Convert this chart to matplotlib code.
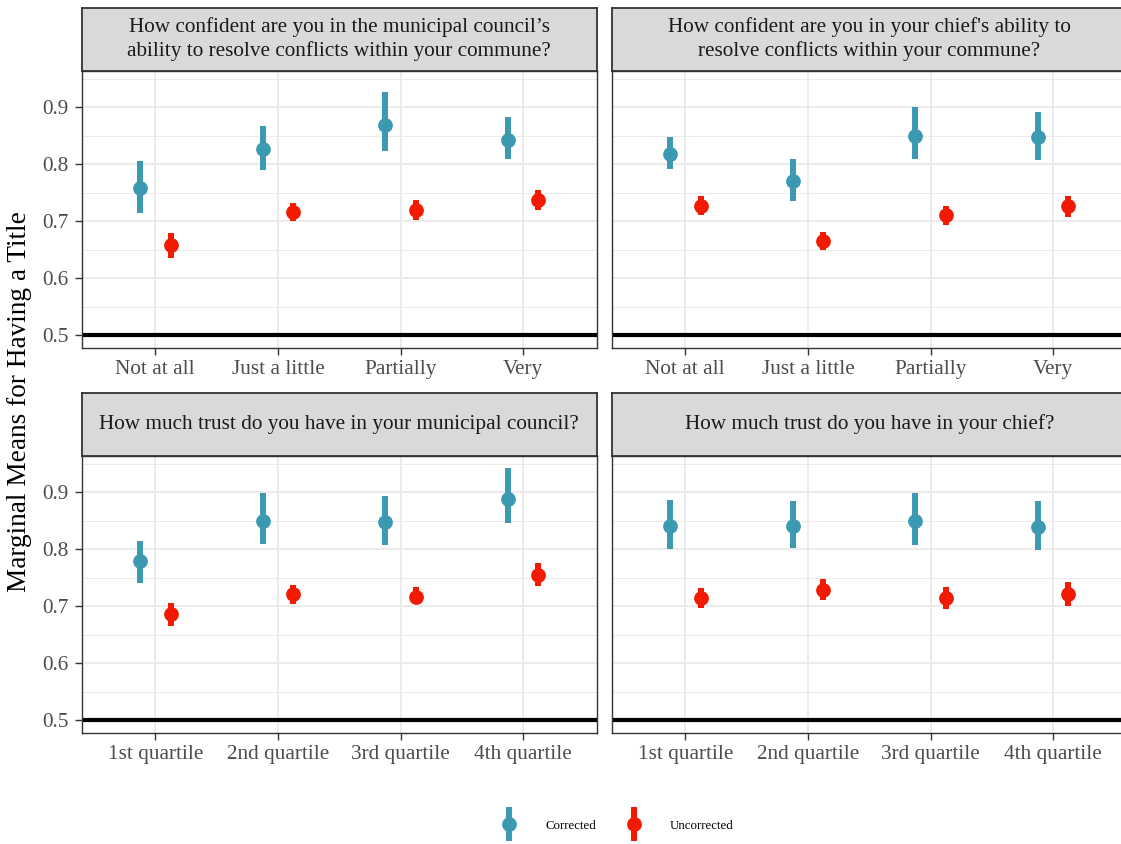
import matplotlib.pyplot as plt
from matplotlib.lines import Line2D

plt.rcParams['font.family'] = ['Liberation Serif', 'DejaVu Serif']

# Panel titles and categories
titles = [
    "How confident are you in the municipal council\u2019s\nability to resolve conflicts within your commune?",
    "How confident are you in your chief's ability to\nresolve conflicts within your commune?",
    "How much trust do you have in your municipal council?",
    "How much trust do you have in your chief?",
]
cats_conf = ["Not at all", "Just a little", "Partially", "Very"]
cats_trust = ["1st quartile", "2nd quartile", "3rd quartile", "4th quartile"]
panel_cats = [cats_conf, cats_conf, cats_trust, cats_trust]

# Corrected estimates (mean, lower, upper) per panel
corr_mean = [
    [0.758, 0.827, 0.869, 0.843],
    [0.818, 0.770, 0.850, 0.847],
    [0.779, 0.850, 0.847, 0.889],
    [0.840, 0.840, 0.850, 0.839],
]
corr_lo = [
    [0.714, 0.790, 0.823, 0.810],
    [0.792, 0.736, 0.809, 0.808],
    [0.740, 0.809, 0.807, 0.846],
    [0.800, 0.802, 0.807, 0.798],
]
corr_hi = [
    [0.806, 0.867, 0.927, 0.883],
    [0.848, 0.809, 0.900, 0.892],
    [0.814, 0.899, 0.893, 0.942],
    [0.887, 0.885, 0.898, 0.885],
]

# Uncorrected estimates
unc_mean = [
    [0.658, 0.717, 0.720, 0.737],
    [0.727, 0.666, 0.710, 0.727],
    [0.687, 0.721, 0.717, 0.754],
    [0.714, 0.729, 0.714, 0.721],
]
unc_lo = [
    [0.636, 0.701, 0.702, 0.719],
    [0.711, 0.650, 0.694, 0.708],
    [0.665, 0.703, 0.703, 0.735],
    [0.696, 0.711, 0.695, 0.700],
]
unc_hi = [
    [0.680, 0.732, 0.737, 0.755],
    [0.744, 0.681, 0.727, 0.744],
    [0.706, 0.738, 0.733, 0.775],
    [0.732, 0.747, 0.734, 0.742],
]

blue = "#3B9AB2"
red = "#F21A00"

W, H = 1121, 844
fig = plt.figure(figsize=(W / 100, H / 100), dpi=100)

# panel boxes in pixels: (left, top-of-panel)
lefts = [81.7, 611.7, 81.7, 611.7]
tops = [70.7, 70.7, 455.7, 455.7]
pw, ph, sh = 515.0, 277.0, 63.0

for i in range(4):
    l, t = lefts[i], tops[i]
    ax = fig.add_axes([l / W, 1 - (t + ph) / H, pw / W, ph / H])
    sax = fig.add_axes([l / W, 1 - t / H, pw / W, sh / H])

    x = list(range(1, 5))
    xc = [v - 0.125 for v in x]
    xu = [v + 0.125 for v in x]

    ax.axhline(0.5, color="black", lw=3.0, zorder=2)

    for xs, m, lo, hi, col in [(xc, corr_mean[i], corr_lo[i], corr_hi[i], blue),
                               (xu, unc_mean[i], unc_lo[i], unc_hi[i], red)]:
        yerr = [[a - b for a, b in zip(m, lo)], [b - a for a, b in zip(m, hi)]]
        cont = ax.errorbar(xs, m, yerr=yerr, fmt='o', color=col, ms=9.6,
                           elinewidth=4.3, capsize=0, zorder=3)
        for lc in cont.lines[2]:
            lc.set_capstyle('butt')

    ax.set_xlim(0.4, 4.6)
    ax.set_ylim(0.4779, 0.9642)
    ax.set_xticks(x)
    ax.set_xticklabels(panel_cats[i])
    ax.set_yticks([0.5, 0.6, 0.7, 0.8, 0.9])
    ax.set_yticks([0.55, 0.65, 0.75, 0.85, 0.95], minor=True)
    ax.set_yticklabels(["0.5", "0.6", "0.7", "0.8", "0.9"])
    ax.grid(True, which='major', color="#EBEBEB", lw=1.3, zorder=0)
    ax.grid(True, which='minor', axis='y', color="#EBEBEB", lw=0.7, zorder=0)
    ax.set_axisbelow(True)
    ax.tick_params(axis='both', which='major', length=5, width=1.0, color="#333333",
                   labelsize=15.3, labelcolor="#4D4D4D")
    ax.tick_params(axis='x', pad=4.2)
    ax.tick_params(axis='y', pad=4.5)
    ax.tick_params(which='minor', length=0)
    if i % 2 == 1:
        ax.tick_params(axis='y', which='both', left=False, labelleft=False)
    for s in ax.spines.values():
        s.set_color("#333333")
        s.set_linewidth(1.0)

    sax.set_facecolor("#D9D9D9")
    sax.set_xticks([])
    sax.set_yticks([])
    for s in sax.spines.values():
        s.set_color("#333333")
        s.set_linewidth(1.3)
    sax.text(0.5, 0.5, titles[i], ha='center', va='center', fontsize=15.3,
             color="#1A1A1A", linespacing=1.32, transform=sax.transAxes)

fig.text(20 / W, 1 - 402 / H, "Marginal Means for Having a Title", rotation=90,
         ha='center', va='center', fontsize=19.6, color="black")

handles = []
for col in [blue, red]:
    bar = Line2D([], [], ls='none', marker='|', ms=24.5, mew=4.3, color=col)
    dot = Line2D([], [], ls='none', marker='o', ms=9.6, color=col)
    handles.append((bar, dot))
fig.legend(handles, ["Corrected", "Uncorrected"], loc='center',
           bbox_to_anchor=(617 / W, 1 - 826 / H), ncol=2, frameon=False,
           fontsize=9.3, handlelength=1.4, handletextpad=2.1, columnspacing=2.2)

fig.savefig("out.png", dpi=100)
